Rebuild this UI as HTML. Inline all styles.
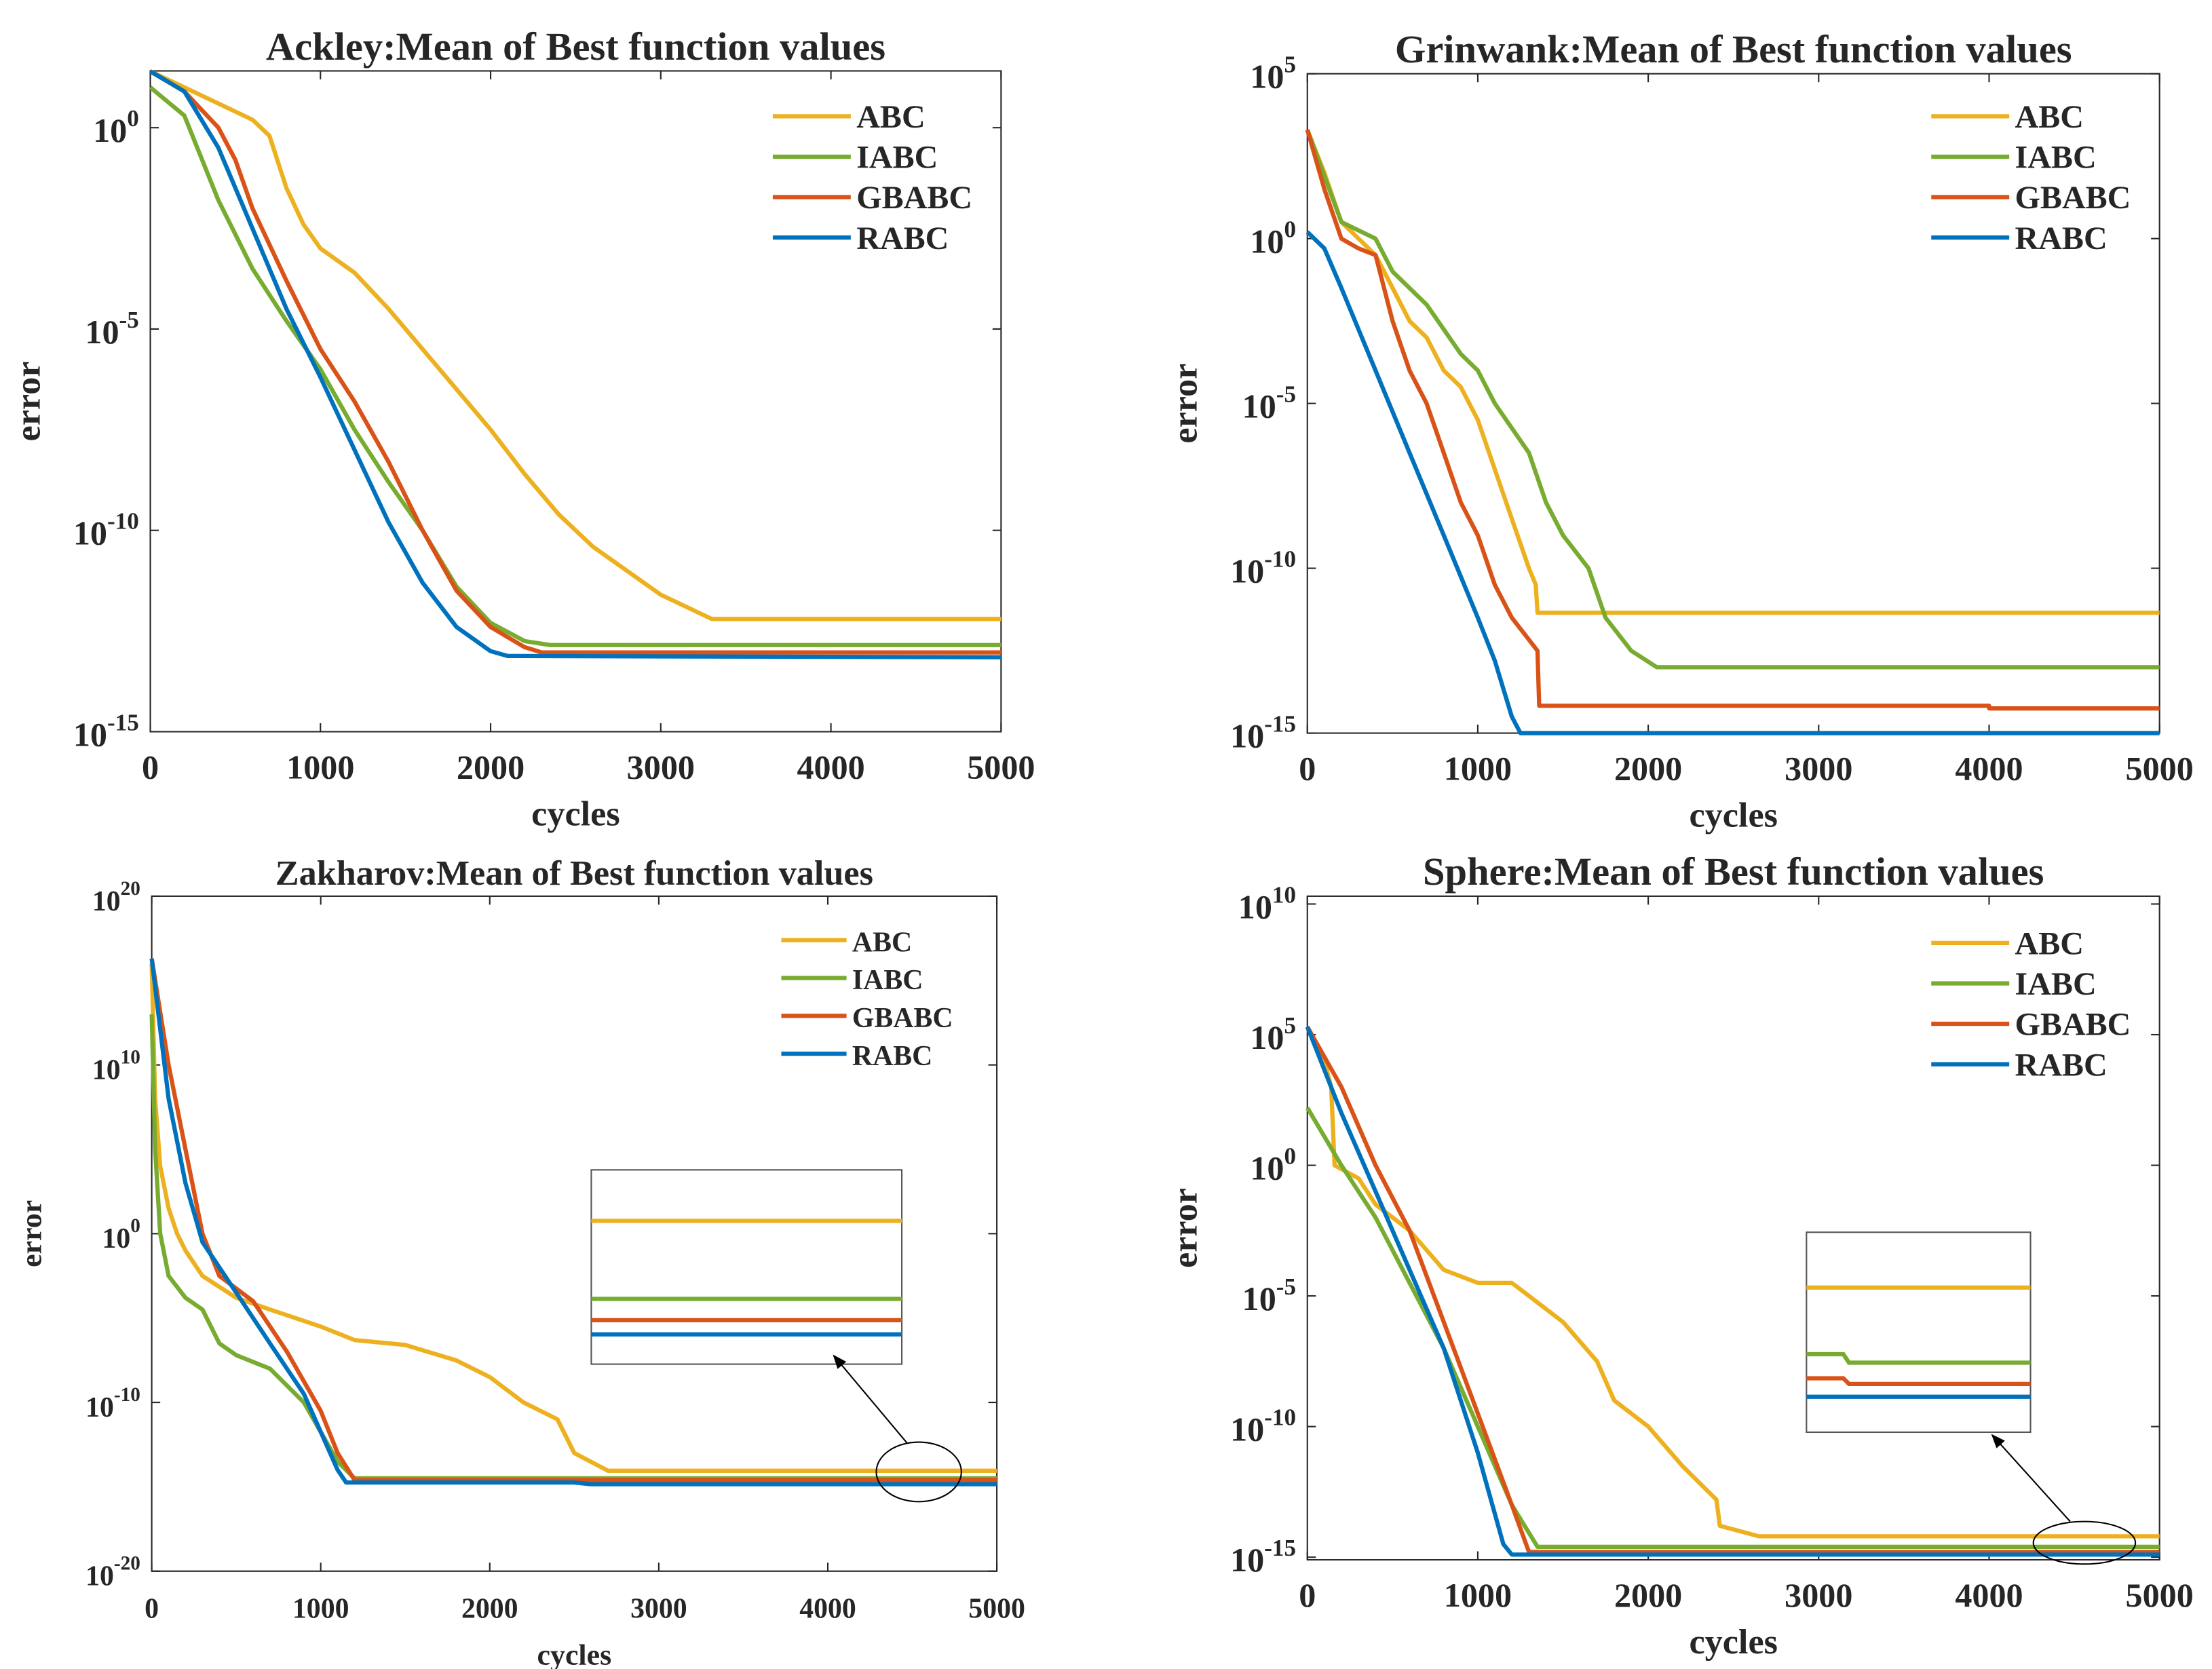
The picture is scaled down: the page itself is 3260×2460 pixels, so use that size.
<!DOCTYPE html>
<html><head><meta charset="utf-8"><style>
html,body{margin:0;padding:0;background:#fff;}
svg{display:block;}
text{font-family:"Liberation Serif",serif;font-weight:bold;fill:#262626;}
</style></head><body>
<svg id="fig" width="3260" height="2460" viewBox="0 0 1560 1177" preserveAspectRatio="none" xmlns="http://www.w3.org/2000/svg"></svg>
<script>
const seriesNames = ["ABC","IABC","GBABC","RABC"];
const colors = ["#EDB120","#77AC30","#D95319","#0072BD"];
const xTicks = [0,1000,2000,3000,4000,5000];

// Ackley (log10 error vs cycles)
const ackleyCycles = [
 [0,200,400,600,700,800,900,1000,1200,1400,1600,1800,2000,2200,2400,2600,2800,3000,3200,3300,5000],
 [0,200,400,600,800,1000,1200,1400,1600,1800,2000,2200,2350,5000],
 [0,200,400,500,600,800,1000,1200,1400,1600,1800,2000,2200,2300,5000],
 [0,200,400,600,800,1000,1200,1400,1600,1800,2000,2100,5000]];
const ackleyVals = [
 [1.4,1.0,0.6,0.2,-0.2,-1.5,-2.4,-3.0,-3.6,-4.5,-5.5,-6.5,-7.5,-8.6,-9.6,-10.4,-11.0,-11.6,-12.0,-12.2,-12.2],
 [1.0,0.3,-1.8,-3.5,-4.8,-6.0,-7.5,-8.8,-10.0,-11.4,-12.3,-12.75,-12.85,-12.85],
 [1.4,0.9,0.0,-0.8,-2.0,-3.8,-5.5,-6.8,-8.3,-10.0,-11.5,-12.4,-12.9,-13.03,-13.03],
 [1.4,0.9,-0.5,-2.5,-4.5,-6.2,-8.0,-9.8,-11.3,-12.4,-13.0,-13.12,-13.15]];

// Grinwank
const grinCycles = [
 [0,100,200,300,400,500,600,700,800,900,1000,1100,1200,1300,1340,1350,5000],
 [0,200,400,500,700,900,1000,1100,1300,1400,1500,1650,1750,1900,2050,5000],
 [0,100,200,300,400,500,600,700,800,900,1000,1100,1200,1350,1360,4000,4001,5000],
 [0,100,200,400,600,800,1000,1100,1200,1250,5000]];
const grinVals = [
 [3.3,2.0,0.5,0,-0.5,-1.5,-2.5,-3.0,-4.0,-4.5,-5.5,-7.0,-8.5,-10.0,-10.5,-11.35,-11.35],
 [3.3,0.5,0,-1.0,-2.0,-3.5,-4.0,-5.0,-6.5,-8.0,-9.0,-10.0,-11.5,-12.5,-13.0,-13.0],
 [3.3,1.5,0,-0.3,-0.5,-2.5,-4.0,-5.0,-6.5,-8.0,-9.0,-10.5,-11.5,-12.5,-14.17,-14.17,-14.25,-14.25],
 [0.2,-0.3,-1.5,-4.0,-6.5,-9.0,-11.5,-12.8,-14.5,-15,-15]];

// Zakharov
const zakCycles = [
 [0,20,50,100,150,200,300,500,700,1000,1200,1500,1800,2000,2200,2400,2500,2700,5000],
 [0,20,50,100,200,300,400,500,700,900,1100,1200,5000],
 [0,100,200,300,400,600,800,1000,1100,1200,5000],
 [0,100,200,300,500,700,900,1100,1150,2500,2600,5000]];
const zakVals = [
 [16,8,4,1.5,0,-1.0,-2.5,-3.8,-4.5,-5.5,-6.3,-6.6,-7.5,-8.5,-10.0,-11.0,-13.0,-14.05,-14.05],
 [13,5,0,-2.5,-3.8,-4.5,-6.5,-7.2,-8.0,-10.0,-13.5,-14.5,-14.5],
 [16.3,10,5,0,-2.5,-4.0,-7.0,-10.5,-13.0,-14.6,-14.6],
 [16.3,8,3,-0.5,-3.5,-6.5,-9.5,-14.0,-14.75,-14.75,-14.85,-14.85]];

// Sphere
const sphCycles = [
 [0,100,140,160,300,400,500,600,800,1000,1200,1300,1500,1700,1800,2000,2200,2400,2420,2650,5000],
 [0,200,400,600,800,1000,1200,1350,5000],
 [0,200,400,600,800,1000,1200,1300,5000],
 [0,200,400,600,800,1000,1150,1200,5000]];
const sphVals = [
 [5.3,4.0,3.0,0,-0.5,-1.5,-2.0,-2.5,-4.0,-4.5,-4.5,-5.0,-6.0,-7.5,-9.0,-10.0,-11.5,-12.8,-13.8,-14.2,-14.2],
 [2.2,0,-2.0,-4.5,-7.0,-10.0,-13.0,-14.6,-14.6],
 [5.3,3.0,0,-2.5,-6.0,-9.5,-13.0,-14.8,-14.8],
 [5.3,2.0,-1.0,-4.0,-7.0,-11.0,-14.5,-14.9,-14.9]];

const yTicksA = [0,-5,-10,-15], yTicksG=[5,0,-5,-10,-15], yTicksZ=[20,10,0,-10,-20], yTicksS=[10,5,0,-5,-10,-15];

const svg = document.getElementById('fig');
const NS = "http://www.w3.org/2000/svg";
function mk(tag, attrs, parent){const e=document.createElementNS(NS,tag);for(const k in attrs)e.setAttribute(k,attrs[k]);(parent||svg).appendChild(e);return e;}

function panel(p){
  const g = mk('g',{});
  
  
  const sx = v => p.x0 + (v/5000)*(p.x1-p.x0);
  const sy = v => p.y1 - (v - p.ymin)/(p.ymax-p.ymin)*(p.y1-p.y0);
  const fr = mk('rect',{x:p.x0,y:p.y0,width:p.x1-p.x0,height:p.y1-p.y0,fill:'#fff',stroke:'#262626','stroke-width':1},g);
   
  xTicks.forEach(t=>{
    const X=sx(t);
    mk('line',{x1:X,y1:p.y1,x2:X,y2:p.y1-6,stroke:'#262626'},g);
    mk('line',{x1:X,y1:p.y0,x2:X,y2:p.y0+6,stroke:'#262626'},g);
    const tx=mk('text',{x:X,y:p.y1+33,'text-anchor':'middle','font-size':p.tfs},g);
    tx.textContent=t;
     
  });
  p.yt.forEach(t=>{
    const Y=sy(t);
    mk('line',{x1:p.x0,y1:Y,x2:p.x0+6,y2:Y,stroke:'#262626'},g);
    mk('line',{x1:p.x1,y1:Y,x2:p.x1-6,y2:Y,stroke:'#262626'},g);
    const tx=mk('text',{x:p.x0-8,y:Y+10,'text-anchor':'end','font-size':p.tfs},g);
     
    const a=mk('tspan',{},tx); a.textContent='10';
    const b=mk('tspan',{dy:-11,'font-size':p.tfs*0.7},tx); b.textContent=String(t);
  });
  const ti=mk('text',{x:(p.x0+p.x1)/2,y:p.y0-8,'text-anchor':'middle','font-size':p.titfs},g);
  ti.textContent=p.title;  
  const xl=mk('text',{x:(p.x0+p.x1)/2,y:p.y1+66,'text-anchor':'middle','font-size':p.tfs+1},g);
  xl.textContent='cycles';  
  const ym=(p.y0+p.y1)/2;
  const yl=mk('text',{x:p.x0-78,y:ym,'text-anchor':'middle','font-size':p.tfs+1,transform:`rotate(-90 ${p.x0-78} ${ym})`},g);
  yl.textContent='error';  
  for(let s=0;s<4;s++){
    const pts=p.cx[s].map((c,i)=>sx(c).toFixed(1)+','+sy(p.vy[s][i]).toFixed(1)).join(' ');
    const pl=mk('polyline',{points:pts,fill:'none',stroke:colors[s],'stroke-width':3,'stroke-linejoin':'round'},g);
    
    
  }
  seriesNames.forEach((n,i)=>{
    const Y=p.ly0+i*p.lgap;
    const ln=mk('line',{x1:p.lx,y1:Y,x2:p.lx+p.lw,y2:Y,stroke:colors[i],'stroke-width':3},g);
     
    const t=mk('text',{x:p.lx+p.lw+4,y:Y+8,'font-size':p.lfs},g);
    t.textContent=n;  
  });
  return g;
}

panel({name:'ackley',title:'Ackley:Mean of Best function values',x0:106,x1:706,y0:50,y1:516,ymin:-15,ymax:1.41,yt:yTicksA,cx:ackleyCycles,vy:ackleyVals,tfs:24,titfs:28,lx:545,lw:55,ly0:82,lgap:28.5,lfs:23});
panel({name:'grinwank',title:'Grinwank:Mean of Best function values',x0:922,x1:1523,y0:52,y1:517,ymin:-15,ymax:5,yt:yTicksG,cx:grinCycles,vy:grinVals,tfs:24,titfs:28,lx:1362,lw:55,ly0:82,lgap:28.5,lfs:23});
panel({name:'zakharov',title:'Zakharov:Mean of Best function values',x0:107,x1:703,y0:632,y1:1108,ymin:-20,ymax:20,yt:yTicksZ,cx:zakCycles,vy:zakVals,tfs:20,titfs:25,lx:551,lw:46,ly0:663,lgap:26.7,lfs:20});
panel({name:'sphere',title:'Sphere:Mean of Best function values',x0:922,x1:1523,y0:632,y1:1100,ymin:-15.1,ymax:10.3,yt:yTicksS,cx:sphCycles,vy:sphVals,tfs:24,titfs:28,lx:1362,lw:55,ly0:665,lgap:28.5,lfs:23});

function inset(name,x,y,w,h,lines){
  const g=mk('g',{});
   
  mk('rect',{x:x,y:y,width:w,height:h,fill:'#fff',stroke:'#555','stroke-width':1},g);
  lines.forEach((l,i)=>{
    const pl=mk('polyline',{points:l.map(q=>q.join(',')).join(' '),fill:'none',stroke:colors[i],'stroke-width':3},g);
     
  });
}
inset('zakharov-inset',417,825,219,137,[[[417,861],[636,861]],[[417,916],[636,916]],[[417,931],[636,931]],[[417,941],[636,941]]]);
inset('sphere-inset',1274,869,158,141,[[[1274,908],[1432,908]],[[1274,955],[1300,955],[1304,961],[1432,961]],[[1274,972],[1300,972],[1304,976],[1432,976]],[[1274,985],[1432,985]]]);

mk('defs',{}).innerHTML='<marker id="ah" markerWidth="10" markerHeight="10" refX="9" refY="5" orient="auto"><path d="M0,1 L10,5 L0,9 Z" fill="#000"/></marker>';
[[648,1038,30,21,640,1018,588,956],[1470,1088,36,15,1460,1073,1405,1012]].forEach((a,i)=>{
  const e=mk('ellipse',{cx:a[0],cy:a[1],rx:a[2],ry:a[3],fill:'none',stroke:'#000','stroke-width':1});
   
  const l=mk('line',{x1:a[4],y1:a[5],x2:a[6],y2:a[7],stroke:'#000','stroke-width':1,'marker-end':'url(#ah)'});
   
});
</script>
</body></html>
